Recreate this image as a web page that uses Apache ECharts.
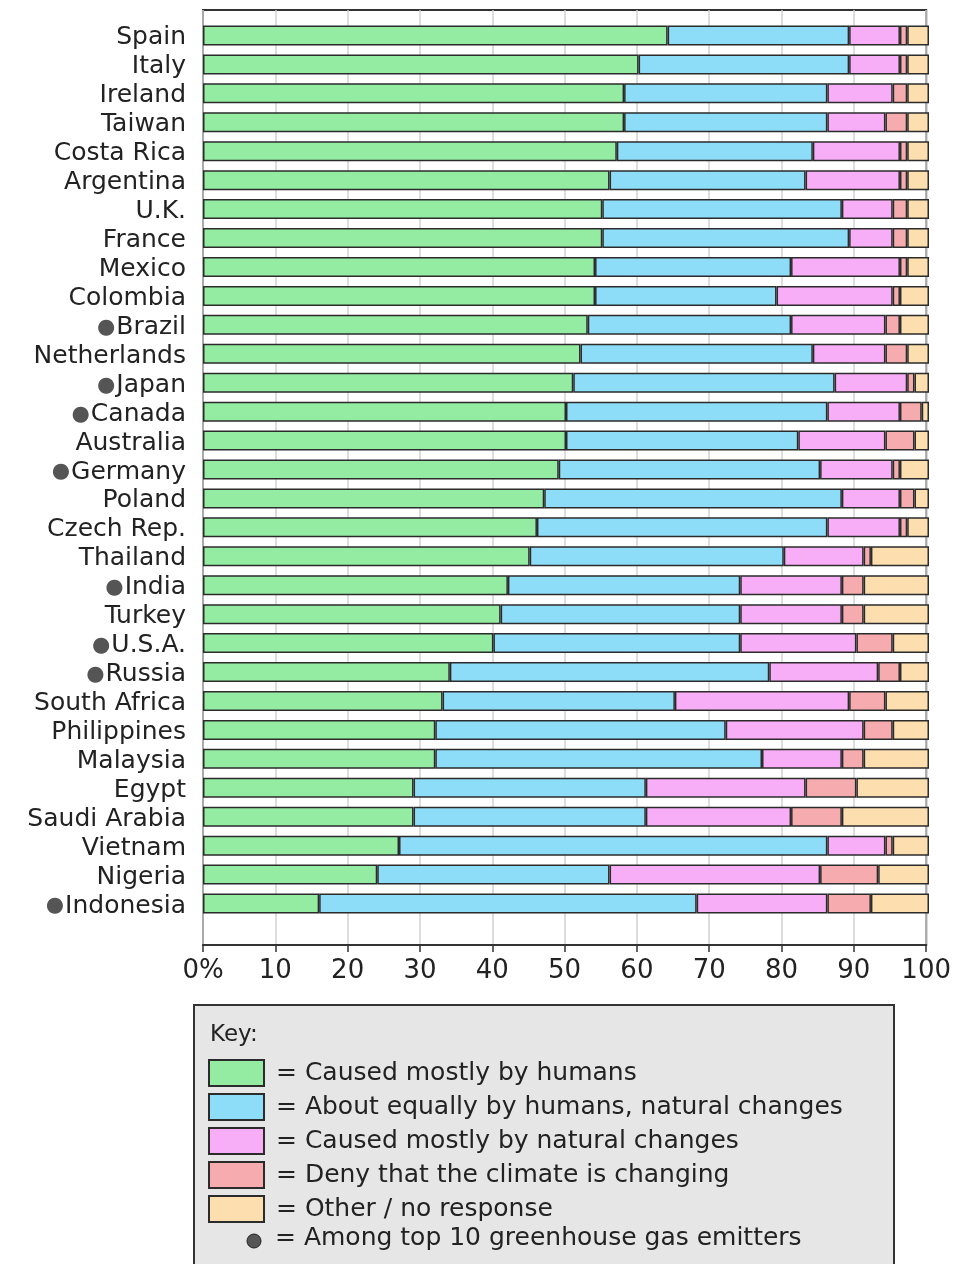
<!DOCTYPE html>
<html>
<head>
<meta charset="utf-8">
<script src="https://cdn.jsdelivr.net/npm/echarts@6/dist/echarts.min.js"></script>
<style>
  html, body { margin: 0; padding: 0; background: #fff; }
  #chart { width: 954px; height: 1264px; }
</style>
</head>
<body>
<div id="chart"></div>
<script>
// countries, top to bottom
var countries = ['Spain', 'Italy', 'Ireland', 'Taiwan', 'Costa Rica', 'Argentina', 'U.K.', 'France',
  'Mexico', 'Colombia', 'Brazil', 'Netherlands', 'Japan', 'Canada', 'Australia', 'Germany', 'Poland',
  'Czech Rep.', 'Thailand', 'India', 'Turkey', 'U.S.A.', 'Russia', 'South Africa', 'Philippines',
  'Malaysia', 'Egypt', 'Saudi Arabia', 'Vietnam', 'Nigeria', 'Indonesia']
// top 10 greenhouse gas emitters (marked with a dot)
var emitters = ['Brazil', 'Japan', 'Canada', 'Germany', 'India', 'U.S.A.', 'Russia', 'Indonesia']

var seriesNames = ['Caused mostly by humans', 'About equally by humans, natural changes',
  'Caused mostly by natural changes', 'Deny that the climate is changing', 'Other / no response']

var humans = [64, 60, 58, 58, 57, 56, 55, 55, 54, 54, 53, 52, 51, 50, 50, 49, 47, 46, 45, 42, 41, 40, 34, 33, 32, 32, 29, 29, 27, 24, 16]
var equally = [25, 29, 28, 28, 27, 27, 33, 34, 27, 25, 28, 32, 36, 36, 32, 36, 41, 40, 35, 32, 33, 34, 44, 32, 40, 45, 32, 32, 59, 32, 52]
var natural = [7, 7, 9, 8, 12, 13, 7, 6, 15, 16, 13, 10, 10, 10, 12, 10, 8, 10, 11, 14, 14, 16, 15, 24, 19, 11, 22, 20, 8, 29, 18]
var deny = [1, 1, 2, 3, 1, 1, 2, 2, 1, 1, 2, 3, 1, 3, 4, 1, 2, 1, 1, 3, 3, 5, 3, 5, 4, 3, 7, 7, 1, 8, 6]
var other = [3, 3, 3, 3, 3, 3, 3, 3, 3, 4, 4, 3, 2, 1, 2, 4, 2, 3, 8, 9, 9, 5, 4, 6, 5, 9, 10, 12, 5, 7, 8]

var xTicks = [0, 10, 20, 30, 40, 50, 60, 70, 80, 90, 100]

var colors = ['#94ECA2', '#8EDDF8', '#F8AEF7', '#F6ACAE', '#FDDEAF']
var FONT = 'DejaVu Sans'

var chart = echarts.init(document.getElementById('chart'))

var values = [humans, equally, natural, deny, other]
var series = values.map(function (arr, i) {
  return {
    name: seriesNames[i],
    type: 'bar',
    stack: 'total',
    xAxisIndex: 1,
    yAxisIndex: 1,
    barWidth: 20,
    data: arr,
    itemStyle: { color: colors[i], borderColor: '#2b2b2b', borderWidth: 1.5 },
    emphasis: { disabled: true }
  }
})

var option = {
  animation: false,
  textStyle: { fontFamily: FONT },
  grid: [
    // frame with x labels
    { left: 203, right: 25, top: 10, bottom: 319, show: true, borderColor: '#333', borderWidth: 2 },
    // bar area
    { left: 203, right: 25, top: 21, height: 897 }
  ],
  xAxis: [
    {
      gridIndex: 0, type: 'value', min: 0, max: 100, interval: 10,
      axisLine: { show: true, lineStyle: { color: '#333', width: 2 } },
      axisTick: { show: true, length: 7, lineStyle: { color: '#333', width: 1.5 } },
      splitLine: { show: true, lineStyle: { color: '#d2d2d2', width: 1.5 } },
      axisLabel: {
        fontSize: 26, color: '#222', margin: 13, fontFamily: FONT,
        formatter: function (v) { return xTicks.indexOf(v) === 0 ? '0%' : String(v) }
      }
    },
    { gridIndex: 1, type: 'value', min: 0, max: 100, show: false }
  ],
  yAxis: [
    { gridIndex: 0, type: 'value', show: false },
    {
      gridIndex: 1, type: 'category', inverse: true, data: countries,
      axisLine: { show: false }, axisTick: { show: false },
      axisLabel: {
        interval: 0,
        fontSize: 25, color: '#222', margin: 17, fontFamily: FONT,
        padding: [5, 0, 0, 0],
        formatter: function (name) {
          return emitters.indexOf(name) >= 0 ? '{dot|●}' + name : name
        },
        rich: { dot: { color: '#555', fontSize: 21, padding: [0, 1, 0, 0] } }
      }
    }
  ],
  legend: {
    orient: 'vertical', left: 203, top: 1054,
    itemWidth: 55, itemHeight: 26, itemGap: 6,
    icon: 'rect', selectedMode: false,
    data: seriesNames,
    formatter: function (n) { return '= ' + n },
    textStyle: { fontSize: 25, lineHeight: 26, color: '#222', fontFamily: FONT, padding: [0, 0, 0, 7] }
  },
  graphic: [
    {
      type: 'rect', z: 0, silent: true,
      shape: { x: 194, y: 1005, width: 700, height: 280 },
      style: { fill: '#E6E6E6', stroke: '#333', lineWidth: 2 }
    },
    {
      type: 'text', z: 10, left: 210, top: 1024,
      style: { text: 'Key:', fontSize: 23, fill: '#222', fontFamily: FONT }
    },
    {
      type: 'circle', z: 10, shape: { cx: 254, cy: 1241, r: 7 },
      style: { fill: '#555', stroke: '#222', lineWidth: 1 }
    },
    {
      type: 'text', z: 10, left: 275, top: 1226,
      style: { text: '= Among top 10 greenhouse gas emitters', fontSize: 25, fill: '#222', fontFamily: FONT }
    }
  ],
  series: series
}

chart.setOption(option)
</script>
</body>
</html>
